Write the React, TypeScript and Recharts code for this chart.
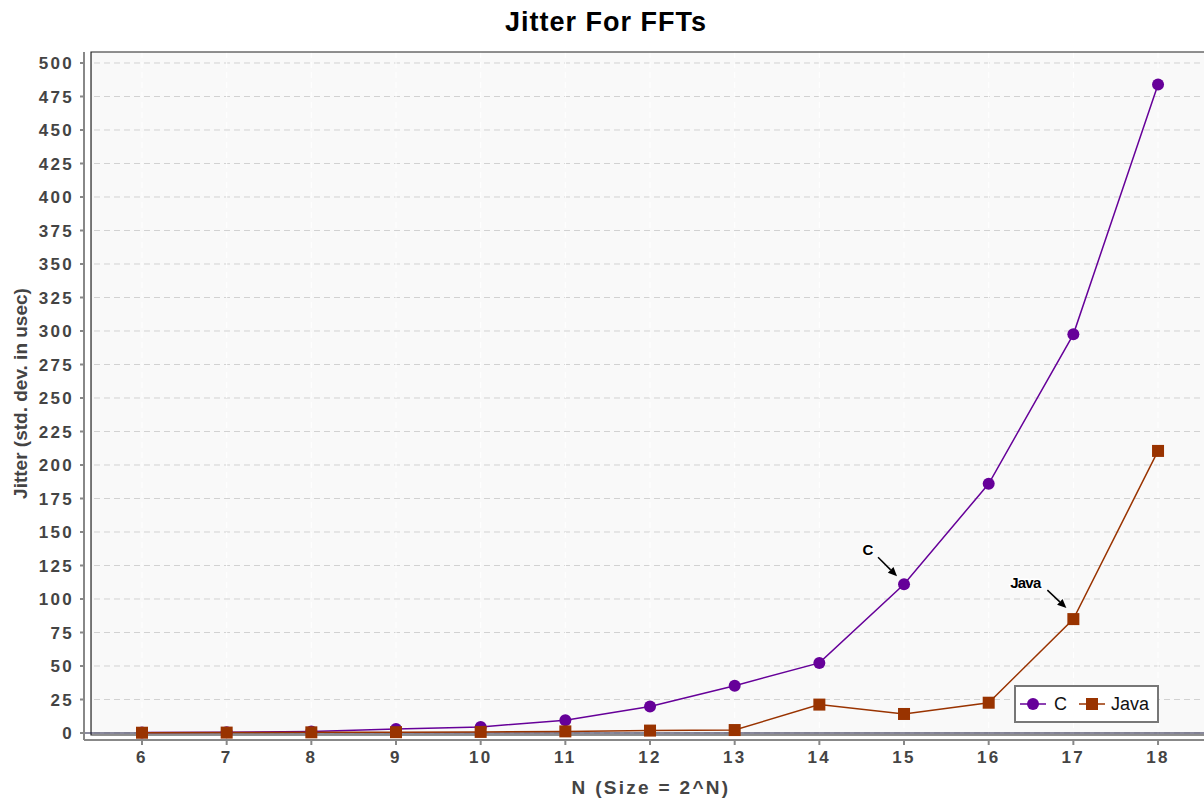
import React from "react";
import {
  CartesianGrid,
  Legend,
  Line,
  LineChart,
  ReferenceArea,
  ReferenceLine,
  XAxis,
  YAxis,
} from "recharts";

// N values (size = 2^N)
const sizes = [6, 7, 8, 9, 10, 11, 12, 13, 14, 15, 16, 17, 18];
const cJitter = [0.3, 0.5, 1.2, 3.0, 4.5, 9.6, 19.8, 35.3, 52.3, 111, 186, 297.5, 484];
const javaJitter = [0.2, 0.3, 0.5, 0.6, 0.8, 1.2, 1.8, 2.2, 21.2, 14.2, 22.6, 85, 210.5];
const yTicks = [0, 25, 50, 75, 100, 125, 150, 175, 200, 225, 250, 275, 300, 325, 350, 375, 400, 425, 450, 475, 500];

// which point carries the callout label for each series
const cNoteAt = 15;
const javaNoteAt = 17;

const data = sizes.map((n, i) => ({ n, C: cJitter[i], Java: javaJitter[i] }));

// axis ranges; the framed plot sits slightly inside the axes
const X_MIN = 5.315;
const X_FRAME = 5.398;
const X_MAX = 18.661;
const Y_MIN = -5.224;
const Y_FRAME = -1.5;
const Y_MAX = 508.2;

const FONT = '"Liberation Sans", Arial, Helvetica, sans-serif';
const C_COLOR = "#660099";
const JAVA_COLOR = "#993300";
const TICK_COLOR = "#444444";

function Callout({ cx, cy, text, tx, ty, ax, ay, bx, by }: any) {
  const ang = Math.atan2(by - ay, bx - ax);
  const len = 9;
  const w = 4;
  const hx = cx + bx - len * Math.cos(ang);
  const hy = cy + by - len * Math.sin(ang);
  const px = -Math.sin(ang) * w;
  const py = Math.cos(ang) * w;
  return (
    <g>
      <text
        x={cx + tx}
        y={cy + ty}
        textAnchor="middle"
        dominantBaseline="central"
        fontFamily={FONT}
        fontWeight="bold"
        fontSize={15}
        letterSpacing={text.length > 1 ? -0.8 : 0}
        fill="#000"
        stroke="#fff"
        strokeWidth={3}
        paintOrder="stroke"
      >
        {text}
      </text>
      <line x1={cx + ax} y1={cy + ay} x2={hx} y2={hy} stroke="#000" strokeWidth={1.5} />
      <polygon
        points={`${cx + bx},${cy + by} ${hx + px},${hy + py} ${hx - px},${hy - py}`}
        fill="#000"
      />
    </g>
  );
}

const renderCircle = (props: any) => {
  const { cx, cy, index, payload } = props;
  return (
    <g key={`c-${index}`}>
      <circle cx={cx} cy={cy} r={6} fill={C_COLOR} />
      {payload.n === cNoteAt && (
        <Callout cx={cx} cy={cy} text="C" tx={-36} ty={-35} ax={-26} ay={-27} bx={-7} by={-8} />
      )}
    </g>
  );
};

const renderSquare = (props: any) => {
  const { cx, cy, index, payload } = props;
  return (
    <g key={`j-${index}`}>
      <rect x={cx - 6} y={cy - 6} width={12} height={12} fill={JAVA_COLOR} />
      {payload.n === javaNoteAt && (
        <Callout cx={cx} cy={cy} text="Java" tx={-48} ty={-37} ax={-26} ay={-29} bx={-7} by={-11} />
      )}
    </g>
  );
};

function LegendBox() {
  return (
    <div
      style={{
        border: "2px solid #777",
        background: "#fff",
        display: "flex",
        alignItems: "center",
        padding: "4px 8px 4px 4px",
        fontFamily: FONT,
        fontSize: 18,
        color: "#111",
        height: 26,
      }}
    >
      <svg width={26} height={14}>
        <line x1={0} y1={7} x2={26} y2={7} stroke={C_COLOR} strokeWidth={1.5} />
        <circle cx={13} cy={7} r={6} fill={C_COLOR} />
      </svg>
      <span style={{ marginLeft: 8, marginRight: 12 }}>C</span>
      <svg width={26} height={14}>
        <line x1={0} y1={7} x2={26} y2={7} stroke={JAVA_COLOR} strokeWidth={1.5} />
        <rect x={7} y={1} width={12} height={12} fill={JAVA_COLOR} />
      </svg>
      <span style={{ marginLeft: 6 }}>Java</span>
    </div>
  );
}

const tickStyle = {
  fill: TICK_COLOR,
  fontFamily: FONT,
  fontWeight: "bold" as const,
  fontSize: 17,
  letterSpacing: 2.3,
};

export default function App() {
  return (
    <div
      style={{
        position: "absolute",
        left: 0,
        top: 0,
        width: 1204,
        height: 798,
        overflow: "hidden",
        background: "#fff",
      }}
    >
      <div
        style={{
          position: "absolute",
          left: 4,
          top: 4,
          width: 1204,
          textAlign: "center",
          fontFamily: FONT,
          fontWeight: "bold",
          fontSize: 27,
          letterSpacing: 1,
          lineHeight: "36px",
          color: "#000",
        }}
      >
        Jitter For FFTs
      </div>
      <LineChart
        width={1214}
        height={798}
        data={data}
        margin={{ top: 52, right: 0, bottom: 0, left: 0 }}
      >
        <CartesianGrid
          vertical={false}
          stroke="#d2d2d2"
          strokeDasharray="6 4"
          fill="#f9f9f9"
          horizontalValues={yTicks}
        />
        <CartesianGrid horizontal={false} stroke="#ffffff" strokeDasharray="6 4" />
        <XAxis
          dataKey="n"
          type="number"
          domain={[X_MIN, X_MAX]}
          ticks={sizes}
          allowDataOverflow
          height={58}
          axisLine={{ stroke: "#888", strokeWidth: 2 }}
          tickLine={{ stroke: "#888", strokeWidth: 2 }}
          tickSize={5}
          tickMargin={6}
          tick={tickStyle}
          label={(p: any) => {
            const vb = p.viewBox;
            return (
              <text
                x={651}
                y={vb.y + 54}
                textAnchor="middle"
                fontFamily={FONT}
                fontWeight="bold"
                fontSize={19}
                letterSpacing={2.3}
                fill={TICK_COLOR}
              >
                N (Size = 2^N)
              </text>
            );
          }}
        />
        <YAxis
          type="number"
          domain={[Y_MIN, Y_MAX]}
          ticks={yTicks}
          allowDataOverflow
          width={84}
          axisLine={{ stroke: "#888", strokeWidth: 2 }}
          tickLine={{ stroke: "#888", strokeWidth: 2 }}
          tickSize={4}
          tickMargin={6}
          tick={tickStyle}
          label={(p: any) => {
            const vb = p.viewBox;
            const cy = 52 + (735 - 52) / 2;
            return (
              <text
                x={vb.x + 27}
                y={cy}
                transform={`rotate(-90, ${vb.x + 27}, ${cy})`}
                textAnchor="middle"
                fontFamily={FONT}
                fontWeight="bold"
                fontSize={19}
                fill={TICK_COLOR}
              >
                Jitter (std. dev. in usec)
              </text>
            );
          }}
        />
        {/* white gaps between axes and the framed plot */}
        <ReferenceArea
          x1={X_MIN}
          x2={X_FRAME}
          y1={Y_MIN}
          y2={Y_MAX}
          fill="#ffffff"
          fillOpacity={1}
          stroke="none"
          ifOverflow="visible"
        />
        <ReferenceArea
          x1={X_MIN}
          x2={X_MAX}
          y1={Y_MIN}
          y2={Y_FRAME}
          fill="#ffffff"
          fillOpacity={1}
          stroke="none"
          ifOverflow="visible"
        />
        <ReferenceArea
          x1={X_FRAME}
          x2={X_MAX}
          y1={Y_FRAME}
          y2={Y_MAX}
          fill="none"
          stroke="#222"
          strokeWidth={1.2}
          ifOverflow="visible"
        />
        <ReferenceLine y={0} stroke="#1a1a40" strokeWidth={1.2} ifOverflow="visible" />
        <Line
          dataKey="C"
          name="C"
          stroke={C_COLOR}
          strokeWidth={1.5}
          dot={renderCircle}
          activeDot={false}
          isAnimationActive={false}
        />
        <Line
          dataKey="Java"
          name="Java"
          stroke={JAVA_COLOR}
          strokeWidth={1.5}
          dot={renderSquare}
          activeDot={false}
          isAnimationActive={false}
        />
        <Legend
          layout="horizontal"
          verticalAlign="middle"
          content={() => <LegendBox />}
          wrapperStyle={{ position: "absolute", left: 1014, top: 685, width: "auto", bottom: "auto" }}
        />
      </LineChart>
    </div>
  );
}
